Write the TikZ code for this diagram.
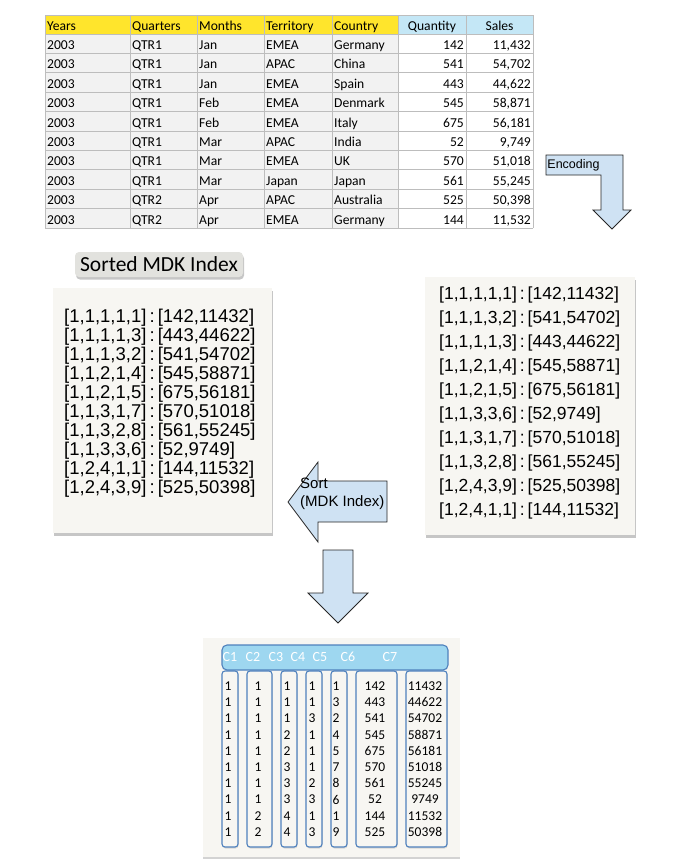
\documentclass[tikz,border=0pt]{standalone}
\usepackage{fontspec}
\setmainfont{Liberation Sans}
\newfontfamily\calfont{Carlito}
\usetikzlibrary{shadows}

\definecolor{hdryellow}{HTML}{FFE52C}
\definecolor{hdrblue}{HTML}{C4E7F6}
\definecolor{rowgray}{HTML}{F2F2F2}
\definecolor{gridgray}{HTML}{BDBDBD}
\definecolor{arrowblue}{HTML}{CFE2F3}
\definecolor{paper}{HTML}{F7F6F2}
\definecolor{colblue}{HTML}{4F81BD}
\definecolor{barblue}{HTML}{9ED7F0}
\definecolor{tagbg}{HTML}{E2E2DE}

\begin{document}
\begin{tikzpicture}[x=1pt, y=-1pt,
    cell/.style={inner sep=0pt, font=\calfont\fontsize{13.6}{15}\selectfont},
    blockarrow/.style={fill=arrowblue, draw=black!85, line width=0.8pt},
    mdkbox/.style={fill=paper, drop shadow={shadow xshift=1pt, shadow yshift=-2.5pt, opacity=.45}},
    mdktext/.style={inner sep=0pt, align=left, font=\fontsize{18.5}{19}\selectfont},
    colbox/.style={draw=colblue, line width=1.1pt, rounded corners=3pt},
    num/.style={inner sep=0pt, font=\calfont\fontsize{13.5}{15}\selectfont},
    chdr/.style={inner sep=0pt, text=white, font=\calfont\fontsize{14}{15}\selectfont}]
    %%%%% START %%%%%
    \useasboundingbox (0,0) rectangle (687,868);

    % source table
    \fill[hdryellow] (45,15) rectangle (398,34);
    \fill[hdrblue] (398,15) rectangle (533,34);
    \fill[rowgray] (45,34) rectangle (398,228);
    \fill[white] (398,34) rectangle (533,228);
    \foreach \x in {45,130,197,264,332,398,466,533}
        \draw[gridgray, line width=0.8pt] (\x,15) -- (\x,228);
    \foreach \i in {0,...,10}
        \draw[gridgray, line width=0.8pt] (45,{34+19.4*\i}) -- (533,{34+19.4*\i});
    \draw[gridgray, line width=0.8pt] (45,15) -- (533,15);

    \node[cell, anchor=base west] (hyears) at (47,30) {Years};
    \node[cell, anchor=base west] (hquarters) at (132,30) {Quarters};
    \node[cell, anchor=base west] (hmonths) at (199,30) {Months};
    \node[cell, anchor=base west] (hterritory) at (266,30) {Territory};
    \node[cell, anchor=base west] (hcountry) at (334,30) {Country};
    \node[cell, anchor=base] (hquantity) at (432,30) {Quantity};
    \node[cell, anchor=base] (hsales) at (499.5,30) {Sales};

    \foreach \yr/\qt/\mo/\te/\co/\qu/\sa [count=\i] in {
        2003/QTR1/Jan/EMEA/Germany/142/11{,}432,
        2003/QTR1/Jan/APAC/China/541/54{,}702,
        2003/QTR1/Jan/EMEA/Spain/443/44{,}622,
        2003/QTR1/Feb/EMEA/Denmark/545/58{,}871,
        2003/QTR1/Feb/EMEA/Italy/675/56{,}181,
        2003/QTR1/Mar/APAC/India/52/9{,}749,
        2003/QTR1/Mar/EMEA/UK/570/51{,}018,
        2003/QTR1/Mar/Japan/Japan/561/55{,}245,
        2003/QTR2/Apr/APAC/Australia/525/50{,}398,
        2003/QTR2/Apr/EMEA/Germany/144/11{,}532} {
        \node[cell, anchor=base west] (yr\i) at (47,{19.4*\i+30}) {\yr};
        \node[cell, anchor=base west] (qt\i) at (132,{19.4*\i+30}) {\qt};
        \node[cell, anchor=base west] (mo\i) at (199,{19.4*\i+30}) {\mo};
        \node[cell, anchor=base west] (te\i) at (266,{19.4*\i+30}) {\te};
        \node[cell, anchor=base west] (co\i) at (334,{19.4*\i+30}) {\co};
        \node[cell, anchor=base east] (qu\i) at (464,{19.4*\i+30}) {\qu};
        \node[cell, anchor=base east] (sa\i) at (531,{19.4*\i+30}) {\sa};
    }

    % encoding arrow
    \draw[blockarrow] (546,155) -- (623,155) -- (623,210) -- (631,210) -- (612,229)
        -- (593,210) -- (601,210) -- (601,175) -- (546,175) -- cycle;
    \node[inner sep=0pt, font=\fontsize{12.5}{14}\selectfont] (enclbl) at (573.5,165) {Encoding};

    % sorted index
    \node[mdkbox, rounded corners=4pt, fill=tagbg, minimum width=168pt, minimum height=25pt]
        (sortedtag) at (159,264.5) {};
    \node[inner sep=0pt, font=\calfont\fontsize{21.5}{23}\selectfont] (sortedlbl) at (159,264.5) {Sorted MDK Index};

    \node[mdkbox, minimum width=219pt, minimum height=245pt] (sortedbox) at (162.5,410.5) {};
    \node[mdktext, anchor=west] (sortedlist) at (64,403) {%
        {}[1,1,1,1,1]\,:\,[142,11432]\\
        {}[1,1,1,1,3]\,:\,[443,44622]\\
        {}[1,1,1,3,2]\,:\,[541,54702]\\
        {}[1,1,2,1,4]\,:\,[545,58871]\\
        {}[1,1,2,1,5]\,:\,[675,56181]\\
        {}[1,1,3,1,7]\,:\,[570,51018]\\
        {}[1,1,3,2,8]\,:\,[561,55245]\\
        {}[1,1,3,3,6]\,:\,[52,9749]\\
        {}[1,2,4,1,1]\,:\,[144,11532]\\
        {}[1,2,4,3,9]\,:\,[525,50398]};

    % encoded index
    \node[mdkbox, minimum width=210pt, minimum height=258pt] (encbox) at (530,406) {};
    \node[mdktext, anchor=west, font=\fontsize{17.5}{24}\selectfont] (enclist) at (439,403) {%
        {}[1,1,1,1,1]\,:\,[142,11432]\\
        {}[1,1,1,3,2]\,:\,[541,54702]\\
        {}[1,1,1,1,3]\,:\,[443,44622]\\
        {}[1,1,2,1,4]\,:\,[545,58871]\\
        {}[1,1,2,1,5]\,:\,[675,56181]\\
        {}[1,1,3,3,6]\,:\,[52,9749]\\
        {}[1,1,3,1,7]\,:\,[570,51018]\\
        {}[1,1,3,2,8]\,:\,[561,55245]\\
        {}[1,2,4,3,9]\,:\,[525,50398]\\
        {}[1,2,4,1,1]\,:\,[144,11532]};

    % sort arrow
    \draw[blockarrow] (288,502) -- (318,462) -- (318,481) -- (387,481) -- (387,522)
        -- (318,522) -- (318,542) -- cycle;
    \node[inner sep=0pt, align=left, anchor=north west, font=\fontsize{15}{17.5}\selectfont]
        (sortlbl) at (300,478) {Sort\\(MDK Index)};

    % down arrow
    \draw[blockarrow] (323,550) -- (353,550) -- (353,593) -- (368,593) -- (338,623)
        -- (308,593) -- (323,593) -- cycle;

    % column store
    \fill[paper, drop shadow={shadow xshift=0pt, shadow yshift=-2pt, opacity=.35}] (203,638) rectangle (460,857);
    \draw[colblue, fill=barblue, line width=1.1pt, rounded corners=5pt] (222,645) rectangle (448,670);
    \foreach \lbl/\x in {C1/230,C2/253,C3/276,C4/298,C5/320,C6/348,C7/390}
        \node[chdr] (h\lbl) at (\x,657) {\lbl};
    \foreach \l/\r in {222/238,247/272,281/297,306/322,331/347,356/397,406/447}
        \draw[colbox, fill=paper, drop shadow={shadow xshift=0.5pt, shadow yshift=-1.5pt, opacity=.25}] (\l,671) rectangle (\r,847);

    \foreach \a/\b/\c/\d/\e/\f/\g [count=\i] in {
        1/1/1/1/1/142/11432, 1/1/1/1/3/443/44622, 1/1/1/3/2/541/54702,
        1/1/2/1/4/545/58871, 1/1/2/1/5/675/56181, 1/1/3/1/7/570/51018,
        1/1/3/2/8/561/55245, 1/1/3/3/6/52/9749, 1/2/4/1/1/144/11532,
        1/2/4/3/9/525/50398} {
        \foreach \v/\x [count=\j] in {\a/228,\b/258,\c/287,\d/312,\e/336,\f/375,\g/425}
            \node[num] (n\i-\j) at (\x,{670+16.2*\i}) {\v};
    }
    %%%%% END %%%%%
\end{tikzpicture}
\end{document}
